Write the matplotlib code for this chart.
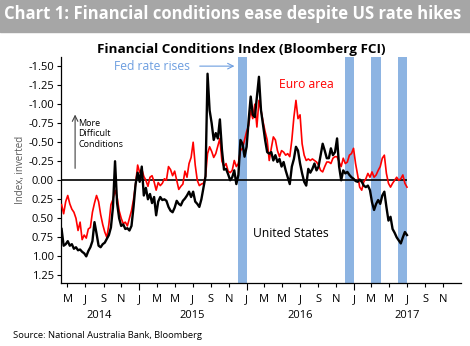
import matplotlib
matplotlib.use("Agg")
import matplotlib.pyplot as plt
import matplotlib.dates as mdates
from matplotlib.patches import Rectangle
from matplotlib.ticker import FuncFormatter, FixedLocator
import pandas as pd

plt.rcParams['font.family'] = ['Open Sans', 'DejaVu Sans']

# weekly Bloomberg FCI readings (Fridays), inverted on the chart
dates = pd.date_range('2014-04-11', periods=169, freq='7D')

us_fci = [
    0.64, 0.86, 0.84, 0.80, 0.86, 0.84, 0.90, 0.88, 0.92, 0.91,
    0.94, 0.96, 1.00, 0.93, 0.88, 0.80, 0.55, 0.70, 0.86, 0.88,
    0.84, 0.82, 0.77, 0.72, 0.62, 0.35, -0.25, 0.30, 0.50, 0.60,
    0.58, 0.64, 0.63, 0.66, 0.60, 0.35, 0.05, -0.10, 0.02, -0.18,
    0.20, 0.10, 0.25, 0.18, 0.30, 0.22, 0.46, 0.28, 0.22, 0.26,
    0.25, 0.27, 0.35, 0.40, 0.42, 0.36, 0.27, 0.31, 0.33, 0.27,
    0.24, 0.20, 0.15, 0.22, 0.15, 0.28, 0.31, 0.35, 0.25, 0.10,
    -0.05, -1.40, -0.92, -0.75, -0.53, -0.62, -0.55, -0.80, -0.40, -0.14,
    -0.15, -0.08, 0.00, -0.04, -0.13, 0.05, -0.07, -0.53, -0.48, -0.31,
    -0.44, -0.79, -1.10, -0.86, -0.83, -1.10, -1.36, -0.92, -0.72, -0.53,
    -0.37, -0.35, -0.37, -0.26, -0.33, -0.24, -0.28, -0.18, -0.24, -0.13,
    -0.04, 0.05, -0.18, -0.28, -0.44, -0.39, -0.22, -0.09, 0.02, 0.07,
    -0.15, -0.10, -0.15, -0.22, -0.13, -0.18, -0.33, -0.48, -0.39, -0.29,
    -0.29, -0.42, -0.33, -0.37, -0.55, -0.18, 0.00, -0.13, -0.09, -0.11,
    -0.07, -0.04, -0.02, 0.01, 0.02, -0.01, 0.02, 0.07, 0.09, 0.07,
    0.13, 0.29, 0.39, 0.31, 0.26, 0.31, 0.20, 0.15, 0.35, 0.53,
    0.48, 0.64, 0.69, 0.75, 0.79, 0.83, 0.75, 0.68, 0.72,
]

ea_fci = [
    0.32, 0.44, 0.28, 0.20, 0.31, 0.38, 0.42, 0.50, 0.66, 0.55,
    0.78, 0.72, 0.76, 0.64, 0.62, 0.42, 0.30, 0.20, 0.28, 0.45,
    0.58, 0.68, 0.75, 0.58, 0.32, 0.25, 0.13, 0.22, 0.40, 0.50,
    0.57, 0.55, 0.60, 0.50, 0.40, 0.25, 0.05, -0.20, -0.10, -0.15,
    -0.05, 0.00, 0.08, -0.04, -0.06, 0.02, 0.13, 0.03, 0.07, 0.04,
    -0.02, 0.00, -0.18, -0.14, -0.06, -0.12, 0.00, 0.12, 0.08, 0.05,
    -0.12, -0.04, -0.22, -0.30, -0.50, -0.20, 0.00, 0.07, 0.05, 0.04,
    -0.05, -0.35, -0.44, -0.38, -0.30, -0.35, -0.45, -0.55, -0.25, -0.18,
    -0.22, -0.12, -0.10, -0.13, -0.26, -0.18, -0.22, -0.39, -0.42, -0.53,
    -0.64, -0.72, -0.92, -0.81, -1.00, -0.70, -1.05, -0.92, -0.77, -0.64,
    -0.53, -0.26, -0.42, -0.57, -0.53, -0.39, -0.31, -0.39, -0.37, -0.33,
    -0.35, -0.31, -0.53, -0.83, -1.05, -0.81, -0.86, -0.48, -0.33, -0.26,
    -0.28, -0.26, -0.28, -0.26, -0.24, -0.20, -0.13, -0.11, -0.18, -0.24,
    -0.24, -0.22, -0.29, -0.31, -0.31, -0.24, -0.18, -0.29, -0.22, -0.24,
    -0.33, -0.35, -0.42, -0.22, -0.07, 0.09, 0.13, 0.02, -0.02, -0.09,
    -0.04, -0.11, -0.04, -0.07, -0.13, -0.18, -0.29, -0.33, -0.09, 0.04,
    0.09, 0.04, 0.00, -0.04, 0.00, -0.02, -0.07, 0.04, 0.09,
]

# months in which the Fed raised rates
hike_months = ['2015-12', '2016-12', '2017-03', '2017-06']
year_labels = ['2014', '2015', '2016', '2017']
year_pos = ['2014-08-17', '2015-07-01', '2016-07-01', '2017-07-01']
y_ticks = [-1.5, -1.25, -1.0, -0.75, -0.5, -0.25, 0.0, 0.25, 0.5, 0.75, 1.0, 1.25]

fig = plt.figure(figsize=(4.7, 3.46), dpi=100)
W, H = 470, 346

# grey header band
fig.patches.append(Rectangle((0, 1 - 32 / H), 1, 32 / H, transform=fig.transFigure,
                             color='#a6a6a6', zorder=0))
fig.text(4 / W, 1 - 14 / H, 'Chart 1: Financial conditions ease despite US rate hikes',
         color='white', fontsize=12, fontweight='bold', va='center', ha='left')

ax = fig.add_axes([61 / W, 63 / H, 400 / W, 226 / H])

for m in hike_months:
    start = pd.Period(m, 'M').start_time
    end = pd.Period(m, 'M').end_time
    ax.axvspan(start, end, color='#8db4e2', lw=0, zorder=1)

ax.hlines(0, dates[0], dates[-1], color='black', lw=1.2, zorder=2)
ax.plot(dates, ea_fci, color='#ff0000', lw=1.2, zorder=3)
ax.plot(dates, us_fci, color='black', lw=1.7, zorder=4)

ax.set_xlim(pd.Timestamp('2014-04-09'), pd.Timestamp('2017-12-31'))
ax.set_ylim(1.35, -1.62)

ax.yaxis.set_major_locator(FixedLocator(y_ticks))
ax.yaxis.set_major_formatter(FuncFormatter(lambda v, p: f'{v:.2f}'.replace('\u2212', '-')))

first_letter = FuncFormatter(lambda v, p: mdates.num2date(v).strftime('%b')[0])
ax.xaxis.set_major_locator(mdates.MonthLocator(bymonth=[1]))
ax.xaxis.set_minor_locator(mdates.MonthLocator(bymonth=[3, 5, 7, 9, 11]))
ax.xaxis.set_major_formatter(first_letter)
ax.xaxis.set_minor_formatter(first_letter)
ax.tick_params(axis='x', which='major', length=5, width=0.8, labelsize=8, pad=3)
ax.tick_params(axis='x', which='minor', length=3, width=0.8, labelsize=8, pad=5)
ax.tick_params(axis='y', length=3, width=0.8, labelsize=8, pad=2)

for s in ['top', 'right']:
    ax.spines[s].set_visible(False)
for s in ['left', 'bottom']:
    ax.spines[s].set_linewidth(0.9)

xt = ax.get_xaxis_transform()
for lab, pos in zip(year_labels, year_pos):
    ax.text(pd.Timestamp(pos), -0.145, lab, transform=xt, ha='center', va='center',
            fontsize=8)

ax.set_ylabel('Index, inverted', color='#595959', fontsize=7, labelpad=2)

ax.set_title('Financial Conditions Index (Bloomberg FCI)', fontsize=9.7, fontweight='bold',
             x=0.45, pad=3)

# annotations
fed_blue = '#6d9ee0'
ax.text(pd.Timestamp('2015-02-14'), -1.50, 'Fed rate rises', color=fed_blue,
        fontsize=8.7, ha='center', va='center')
ax.annotate('', xy=(pd.Timestamp('2015-11-30'), -1.50),
            xytext=(pd.Timestamp('2015-07-16'), -1.50),
            arrowprops=dict(arrowstyle='->', color=fed_blue, lw=0.8))
ax.text(pd.Timestamp('2016-07-22'), -1.26, 'Euro area', color='#ff0000',
        fontsize=8.7, ha='center', va='center')
ax.text(pd.Timestamp('2016-06-01'), 0.70, 'United States', color='black',
        fontsize=8.7, ha='center', va='center')
ax.annotate('', xy=(pd.Timestamp('2014-05-27'), -0.90),
            xytext=(pd.Timestamp('2014-05-27'), -0.12),
            arrowprops=dict(arrowstyle='->', color='#404040', lw=0.8))
ax.text(pd.Timestamp('2014-06-06'), -0.61, 'More\nDifficult\nConditions', fontsize=6.5,
        ha='left', va='center', linespacing=1.2)

fig.text(13 / W, 1 - 335 / H, 'Source: National Australia Bank, Bloomberg',
         fontsize=6.75, va='center', ha='left')

fig.savefig('out.png', dpi=100)
